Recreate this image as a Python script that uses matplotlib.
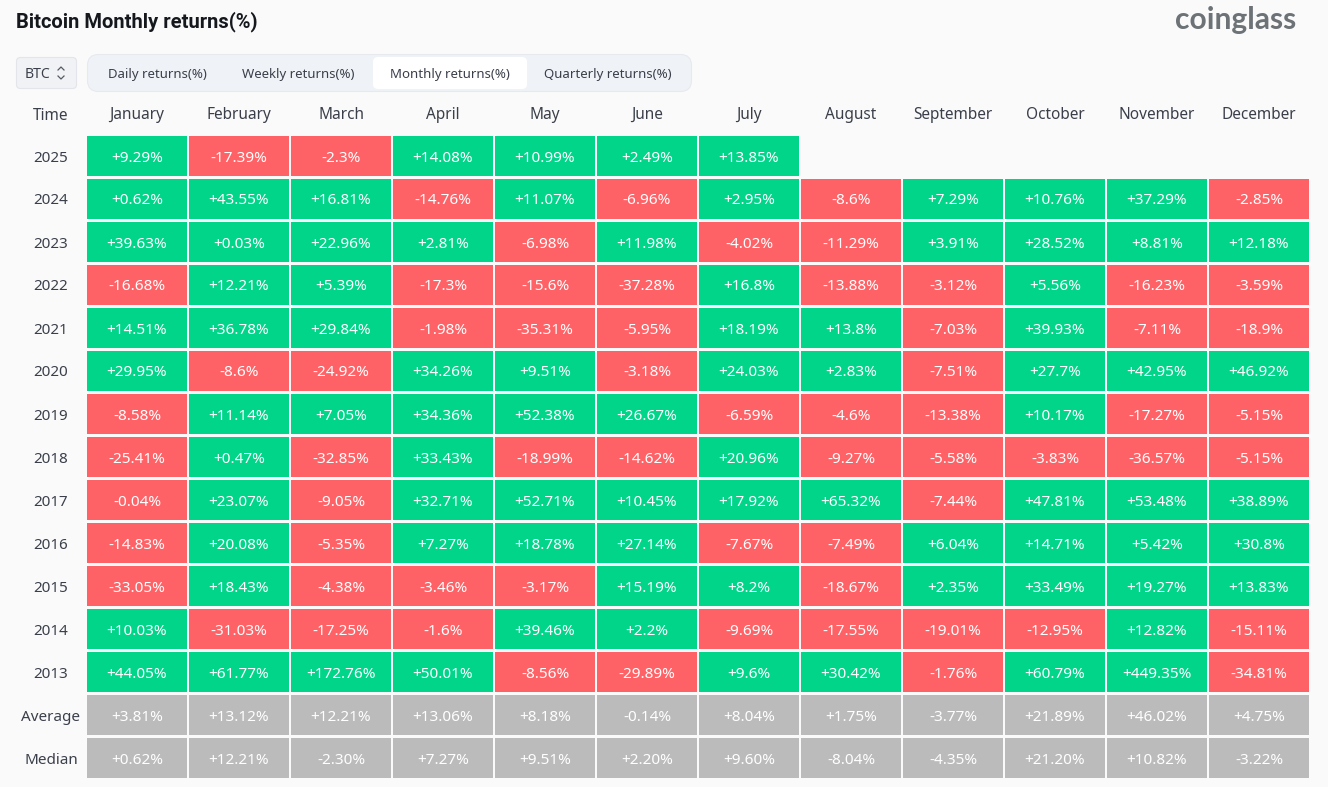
import matplotlib
matplotlib.use("Agg")
import matplotlib.pyplot as plt
from matplotlib.patches import FancyBboxPatch, Rectangle

W, H = 1328, 787
DPI = 100

# Table contents
MONTHS = ["January", "February", "March", "April", "May", "June", "July",
          "August", "September", "October", "November", "December"]
YEARS = ["2025", "2024", "2023", "2022", "2021", "2020", "2019", "2018",
         "2017", "2016", "2015", "2014", "2013"]
TABS = ["Daily returns(%)", "Weekly returns(%)", "Monthly returns(%)", "Quarterly returns(%)"]

R2025 = [9.29, -17.39, -2.3, 14.08, 10.99, 2.49, 13.85]
R2024 = [0.62, 43.55, 16.81, -14.76, 11.07, -6.96, 2.95, -8.6, 7.29, 10.76, 37.29, -2.85]
R2023 = [39.63, 0.03, 22.96, 2.81, -6.98, 11.98, -4.02, -11.29, 3.91, 28.52, 8.81, 12.18]
R2022 = [-16.68, 12.21, 5.39, -17.3, -15.6, -37.28, 16.8, -13.88, -3.12, 5.56, -16.23, -3.59]
R2021 = [14.51, 36.78, 29.84, -1.98, -35.31, -5.95, 18.19, 13.8, -7.03, 39.93, -7.11, -18.9]
R2020 = [29.95, -8.6, -24.92, 34.26, 9.51, -3.18, 24.03, 2.83, -7.51, 27.7, 42.95, 46.92]
R2019 = [-8.58, 11.14, 7.05, 34.36, 52.38, 26.67, -6.59, -4.6, -13.38, 10.17, -17.27, -5.15]
R2018 = [-25.41, 0.47, -32.85, 33.43, -18.99, -14.62, 20.96, -9.27, -5.58, -3.83, -36.57, -5.15]
R2017 = [-0.04, 23.07, -9.05, 32.71, 52.71, 10.45, 17.92, 65.32, -7.44, 47.81, 53.48, 38.89]
R2016 = [-14.83, 20.08, -5.35, 7.27, 18.78, 27.14, -7.67, -7.49, 6.04, 14.71, 5.42, 30.8]
R2015 = [-33.05, 18.43, -4.38, -3.46, -3.17, 15.19, 8.2, -18.67, 2.35, 33.49, 19.27, 13.83]
R2014 = [10.03, -31.03, -17.25, -1.6, 39.46, 2.2, -9.69, -17.55, -19.01, -12.95, 12.82, -15.11]
R2013 = [44.05, 61.77, 172.76, 50.01, -8.56, -29.89, 9.6, 30.42, -1.76, 60.79, 449.35, -34.81]
AVERAGE = [3.81, 13.12, 12.21, 13.06, 8.18, -0.14, 8.04, 1.75, -3.77, 21.89, 46.02, 4.75]
MEDIAN = [0.62, 12.21, -2.30, 7.27, 9.51, 2.20, 9.60, -8.04, -4.35, 21.20, 10.82, -3.22]

ROWS = [R2025, R2024, R2023, R2022, R2021, R2020, R2019, R2018, R2017, R2016, R2015, R2014, R2013]

GREEN = "#00D58A"
RED = "#FF6266"
GRAY = "#BBBBBB"
BG = "#FAFAFA"
INK = "#3A3F4A"
FONT = ["Noto Sans", "DejaVu Sans"]

plt.rcParams["font.family"] = FONT

fig = plt.figure(figsize=(W / DPI, H / DPI), dpi=DPI, facecolor=BG)


def px(n):
    return n * 72 / DPI


# Page furniture lives in a pixel-sized overlay
ui = fig.add_axes([0, 0, 1, 1])
ui.set_xlim(0, W)
ui.set_ylim(H, 0)
ui.axis("off")


def rounded(x, y, w, h, r, **kw):
    ui.add_patch(FancyBboxPatch((x + r, y + r), w - 2 * r, h - 2 * r,
                                boxstyle=f"round,pad={r},rounding_size={r}", **kw))


ui.text(16, 22, "Bitcoin Monthly returns(%)", fontsize=px(20.1), fontweight="bold",
        family=["Roboto", "DejaVu Sans"], color="#15181D", ha="left", va="center")
ui.text(1296, 20, "coinglass", fontsize=px(30), fontweight="bold",
        family=["Lato", "DejaVu Sans"], color="#6C7276", ha="right", va="center")

rounded(16.5, 57.5, 60, 31, 4, fc="#F0F2F6", ec="#E3E5EA", lw=0.8)
ui.text(25, 74.5, "BTC", fontsize=px(14), color=INK, ha="left", va="center")
ui.plot([58, 61, 64], [70, 67, 70], color="#555A63", lw=0.9)
ui.plot([58, 61, 64], [76, 79, 76], color="#555A63", lw=0.9)

rounded(87.5, 54.5, 604, 37, 11, fc="#EFF2F7", ec="#E7E9EE", lw=0.8)
rounded(373, 57, 154, 32, 5, fc="white", ec="none")
for label, cx in zip(TABS, [157, 298, 450, 608]):
    ui.text(cx, 74.5, label, fontsize=px(13.2), color=INK, ha="center", va="center")

# Returns table
ax = fig.add_axes([87 / W, 1 - 778 / H, (1309 - 87) / W, (778 - 136) / H])
ax.set_xlim(0, 12 - 2 / 102)
ax.set_ylim(15 - 3 / 43, 0)
ax.set_facecolor("none")
for s in ax.spines.values():
    s.set_visible(False)

ALL_ROWS = ROWS + [AVERAGE, MEDIAN]
ROW_LABELS = YEARS + ["Average", "Median"]
CELL_W = 100 / 102
CELL_H = 40 / 43

for r, values in enumerate(ALL_ROWS):
    summary = r >= len(ROWS)
    for c, v in enumerate(values):
        color = GRAY if summary else (GREEN if v >= 0 else RED)
        ax.add_patch(Rectangle((c, r), CELL_W, CELL_H, fc=color, ec="none"))
        if values is MEDIAN:
            txt = f"{v:+.2f}%"
        else:
            txt = f"{v:+.2f}".rstrip("0").rstrip(".") + "%"
        ax.text(c + CELL_W / 2, r + CELL_H / 2, txt, color="white", fontsize=px(15.3),
                fontweight="medium", ha="center", va="center_baseline")

ax.xaxis.tick_top()
ax.set_xticks([c + CELL_W / 2 for c in range(12)])
ax.set_xticklabels(MONTHS, fontsize=px(15.4), color=INK, va="center")
ax.set_yticks([r + CELL_H / 2 for r in range(len(ROW_LABELS))])
ax.set_yticklabels(ROW_LABELS, fontsize=px(15.2), color=INK, ha="center")
ax.tick_params(axis="x", length=0, pad=px(21))
ax.tick_params(axis="y", length=0, pad=px(36))

ui.text(51, 115.5, "Time", fontsize=px(15.4), color=INK, ha="center", va="center")

fig.savefig("out.png", dpi=DPI, facecolor=BG)
